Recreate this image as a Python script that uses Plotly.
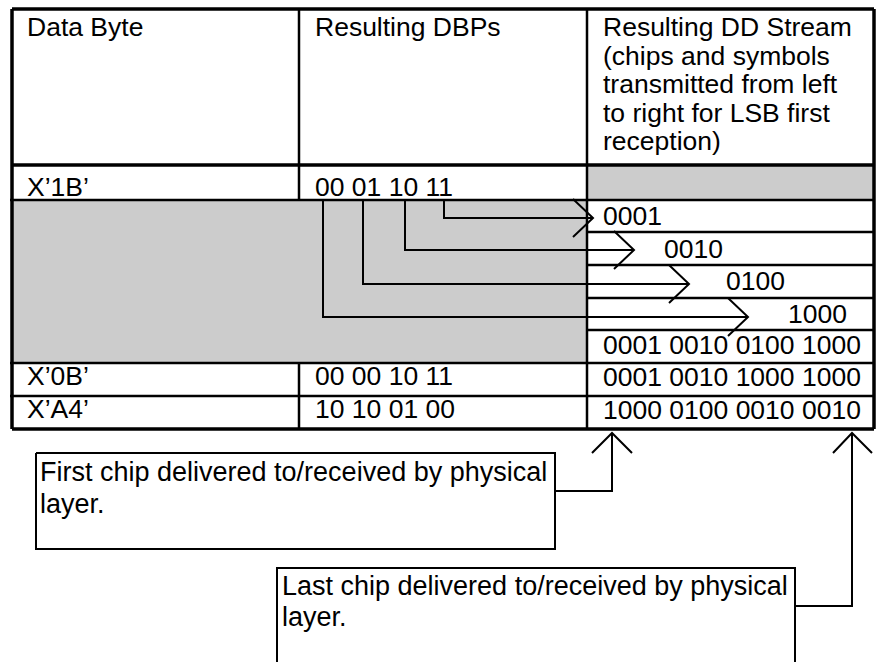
import plotly.graph_objects as go

# ---------------- table content ----------------
col_headers = ["Data Byte", "Resulting DBPs"]
dd_header_lines = ["Resulting DD Stream", "(chips and symbols", "transmitted from left",
                   "to right for LSB first", "reception)"]
data_bytes = ["X\u20191B\u2019", "X\u20190B\u2019", "X\u2019A4\u2019"]
dbp_values = ["00 01 10 11", "00 00 10 11", "10 10 01 00"]
dd_streams = ["", "0001 0010 1000 1000", "1000 0100 0010 0010"]
# DD symbols produced by each DBP of X'1B' (last pair "11" first)
x1b_symbols = ["0001", "0010", "0100", "1000"]
x1b_stream = " ".join(x1b_symbols)
note_first = ["First chip delivered to/received by physical", "layer."]
note_last = ["Last chip delivered to/received by physical", "layer."]

# ---------------- geometry (pixel space) ----------------
W, H = 876, 662
XL, XC1, XC2, XR = 12, 299, 587, 874
YT, YHDR, YR1 = 9, 165, 200
YSUB = [200, 232, 265, 298, 330, 363]
YR2, YR3, YB = 363, 396, 429
GREY = "#cccccc"
FONT = "Liberation Sans, Arial, sans-serif"
FS = 26.5

# connectors from DBP bits to symbols
bit_x = [444, 405, 363, 323]
conn_y = [218, 250, 284, 317]
apex_x = [593, 634, 689, 748]
sym_x = [603, 664, 726, 788]
sym_y = [216, 249, 281, 314]

fig = go.Figure()
shapes = []
ann = []


def line(x0, y0, x1, y1, w=2.5):
    shapes.append(dict(type="line", x0=x0, y0=y0, x1=x1, y1=y1, xref="x", yref="y",
                       line=dict(color="black", width=w), layer="above"))


def path(pts, w=2):
    d = "M " + " L ".join(f"{x},{y}" for x, y in pts)
    shapes.append(dict(type="path", path=d, xref="x", yref="y",
                       line=dict(color="black", width=w), layer="above"))


def rect(x0, y0, x1, y1, fill):
    shapes.append(dict(type="rect", x0=x0, y0=y0, x1=x1, y1=y1, xref="x", yref="y",
                       fillcolor=fill, line=dict(width=0), layer="below"))


def text(x, y, s, size=FS):
    ann.append(dict(x=x, y=y, xref="x", yref="y", text=s, showarrow=False,
                    xanchor="left", yanchor="middle",
                    font=dict(family=FONT, size=size, color="black")))


# grey areas
rect(XL, YR1, XC2, YR2, GREY)
rect(XC2, YHDR, XR, YR1, GREY)

# table lines
line(XL, YT, XR, YT, 3.5)
line(XL, YB, XR, YB, 3.5)
line(XL, YT, XL, YB, 3.5)
line(XR, YT, XR, YB, 3.5)
line(XL, YHDR, XR, YHDR, 3.5)
line(10, YR1, XR, YR1, 2.5)
for yy in YSUB[1:-1]:
    line(XC2, yy, XR, yy, 2.5)
line(10, YR2, XR, YR2, 2.5)
line(10, YR3, XR, YR3, 2.5)
line(XC1, YT, XC1, YR1, 2.5)
line(XC1, YR2, XC1, YB, 2.5)
line(XC2, YT, XC2, YB, 2.5)

# connectors + open arrowheads
for bx, cy, ax in zip(bit_x, conn_y, apex_x):
    path([(bx, YR1), (bx, cy), (ax, cy)], 2)
    path([(ax - 20, cy - 19), (ax, cy), (ax - 20, cy + 19)], 2)

# header text
text(25, 27, col_headers[0])
text(313, 27, col_headers[1])
for i, s in enumerate(dd_header_lines):
    text(601, 27 + 28.5 * i, s)

# data rows
row_y = [187, 376, 409]
for i in range(3):
    text(25, row_y[i], data_bytes[i])
    text(313, row_y[i], dbp_values[i])
    if dd_streams[i]:
        text(601, row_y[i] + 1, dd_streams[i])
for s, sx, sy in zip(x1b_symbols, sym_x, sym_y):
    text(sx - 2, sy, s)
text(601, 345, x1b_stream)

# notes below the table
rect(36, 453, 555, 549, "white")
path([(36, 453), (555, 453), (555, 549), (36, 549), (36, 453)], 2)
text(38, 472, note_first[0], 27)
text(38, 504, note_first[1], 27)
path([(555, 491), (612, 491), (612, 433)], 2)
path([(592, 453), (612, 433), (632, 453)], 2)

path([(277, 680), (277, 568), (795, 568), (795, 680)], 2)
text(280, 586, note_last[0], 27)
text(280, 617, note_last[1], 27)
path([(795, 606), (852, 606), (852, 433)], 2)
path([(833, 453), (852, 433), (872, 453)], 2)

fig.update_layout(
    width=W, height=H, margin=dict(l=0, r=0, t=0, b=0),
    paper_bgcolor="white", plot_bgcolor="white",
    xaxis=dict(range=[0, W], visible=False, fixedrange=True),
    yaxis=dict(range=[H, 0], visible=False, fixedrange=True),
    shapes=shapes, annotations=ann, showlegend=False, hovermode=False,
)
fig.write_html("out.html", config={"displayModeBar": False},
               post_script="document.body.style.margin='0';document.body.style.overflow='hidden';")
